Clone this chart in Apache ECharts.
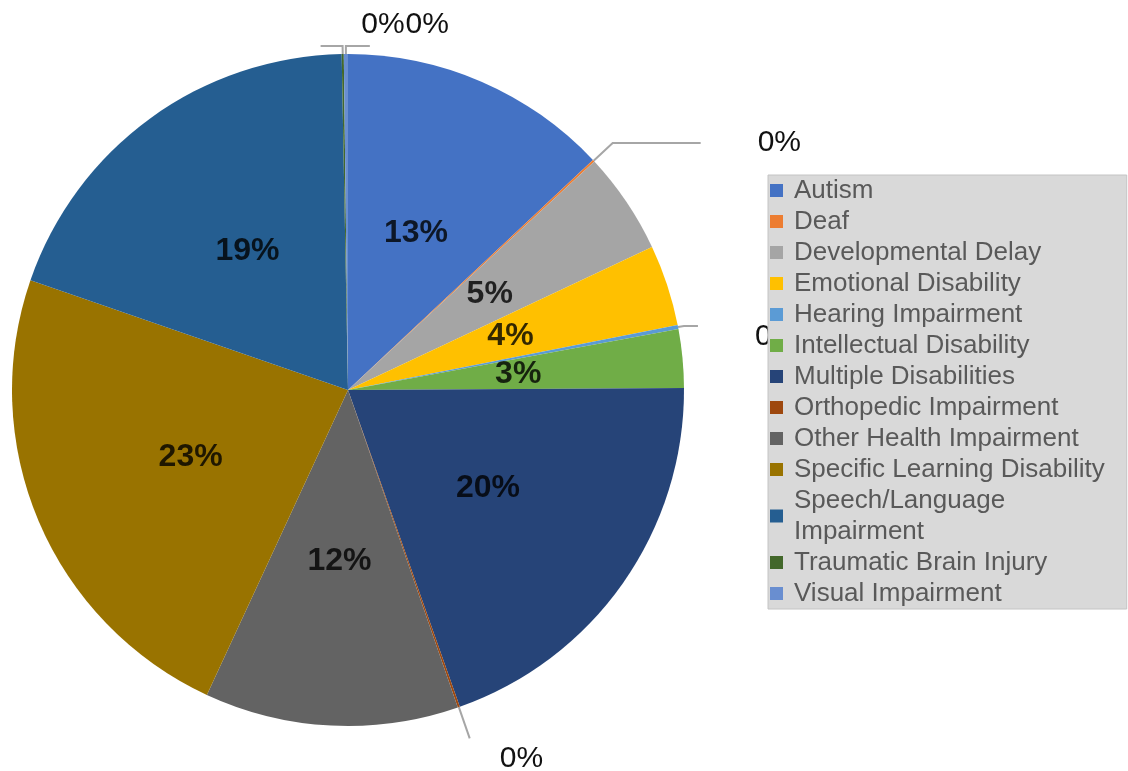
<!DOCTYPE html>
<html>
<head>
<meta charset="utf-8">
<script src="https://cdn.jsdelivr.net/npm/echarts@6/dist/echarts.min.js"></script>
<style>
html,body{margin:0;padding:0;background:#fff;}
#chart{width:1128px;height:771px;}
</style>
</head>
<body>
<div id="chart"></div>
<script>
// Data (percent of students by disability category)
const categories = ['Autism','Deaf','Developmental Delay','Emotional Disability','Hearing Impairment','Intellectual Disability','Multiple Disabilities','Orthopedic Impairment','Other Health Impairment','Specific Learning Disability','Speech/Language Impairment','Traumatic Brain Injury','Visual Impairment'];
const values = [13.0, 0.1, 4.9, 3.9, 0.2, 2.8, 19.7, 0.1, 12.2, 23.4, 19.4, 0.1, 0.2];
const colors = ['#4472C4','#ED7D31','#A5A5A5','#FFC000','#5B9BD5','#70AD47','#264478','#9E480E','#636363','#997300','#255E91','#43682B','#698ED0'];

// label styling (inside for larger slices, outside with leader line for tiny ones)
const insideLabel = {position:'inside', fontSize:32, fontWeight:'bold', color:'rgba(0,0,0,0.8)', fontFamily:'Liberation Sans, Arial, sans-serif'};
const outsideCfg = {
  'Deaf': {label:{distanceToLabelLine:59}, labelLine:{length:26, length2:88}, shift:[-2,0]},
  'Hearing Impairment': {label:{distanceToLabelLine:54}, labelLine:{length:6, length2:14}, shift:[3,11]},
  'Orthopedic Impairment': {label:{distanceToLabelLine:26}, labelLine:{length:33, length2:0}, shift:[4,20]},
  'Traumatic Brain Injury': {label:{distanceToLabelLine:5}, labelLine:{length:8, length2:22}, shift:[89,-21]},
  'Visual Impairment': {label:{distanceToLabelLine:5}, labelLine:{length:8, length2:-24}, shift:[84,-21]}
};

const seriesData = categories.map(function(name, i){
  const item = {name:name, value:values[i], itemStyle:{color:colors[i]}};
  if (outsideCfg[name]) {
    item.label = outsideCfg[name].label;
    item.labelLine = outsideCfg[name].labelLine;
  } else {
    item.label = insideLabel;
    item.labelLine = {show:false};
  }
  return item;
});

const chart = echarts.init(document.getElementById('chart'), null, {renderer:'canvas'});
chart.setOption({
  backgroundColor:'#ffffff',
  animation:false,
  legend:{
    orient:'vertical',
    left:768,
    top:175,
    padding:[0,22,0,2],
    itemGap:0,
    itemWidth:13,
    itemHeight:13,
    icon:'rect',
    selectedMode:false,
    backgroundColor:'#d9d9d9',
    borderColor:'#c4c4c4',
    borderWidth:1,
    z:10,
    textStyle:{fontSize:26, color:'#595959', lineHeight:31, fontFamily:'Liberation Sans, Arial, sans-serif', padding:[0,0,0,6]},
    formatter:function(name){ return name.replace('/Language ', '/Language\n'); },
    data:categories
  },
  series:[{
    type:'pie',
    center:[348,390],
    radius:[0,336],
    startAngle:90,
    clockwise:true,
    avoidLabelOverlap:false,
    itemStyle:{borderWidth:0},
    label:{
      show:true,
      position:'outside',
      fontSize:30,
      color:'#111',
      fontFamily:'Liberation Sans, Arial, sans-serif',
      formatter:function(p){ return Math.round(p.percent) + '%'; }
    },
    labelLine:{show:true, lineStyle:{color:'#a6a6a6', width:2}},
    labelLayout:function(params){
      const cfg = outsideCfg[categories[params.dataIndex]];
      if (cfg) return {dx:cfg.shift[0], dy:cfg.shift[1]};
      return {};
    },
    emphasis:{disabled:true},
    data:seriesData
  }]
});
</script>
</body>
</html>
